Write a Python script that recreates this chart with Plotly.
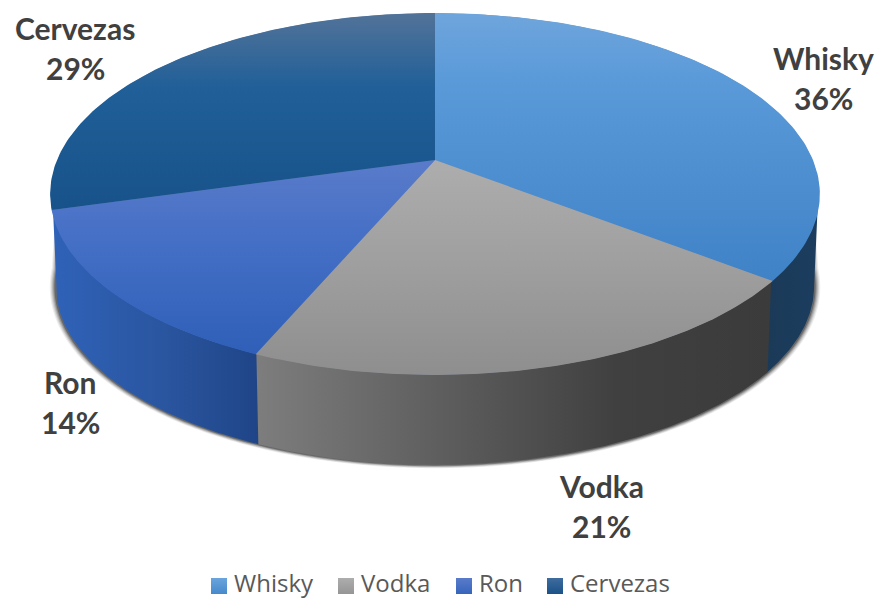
import numpy as np
import plotly.graph_objects as go

# Drink shares, in percent
categories = ["Whisky", "Vodka", "Ron", "Cervezas"]
shares = [36, 21, 14, 29]

# Fill ramps for the top faces and the outer walls
top_colors = {
    "Whisky": [[0, "#6fa5dc"], [0.25, "#5a9ad9"], [1, "#3f82c6"]],
    "Vodka": [[0, "#adadad"], [0.45, "#a0a0a0"], [1, "#8e8e8e"]],
    "Ron": [[0, "#5a7bca"], [0.4, "#4570c6"], [1, "#2f5fb8"]],
    "Cervezas": [[0, "#527399"], [0.38, "#205f98"], [1, "#18528a"]],
}
wall_colors = {
    "Whisky": [[0, "#1b3a58"], [1, "#1c3d5e"]],
    "Vodka": [[0, "#7e7e7e"], [0.7, "#404040"], [1, "#3b3b3b"]],
    "Ron": [[0, "#2f62b8"], [0.55, "#2a559f"], [1, "#1f4587"]],
}
swatch_colors = {
    "Whisky": ("#6aa5dd", "#4689cb"),
    "Vodka": ("#adadad", "#959595"),
    "Ron": ("#5a7bca", "#3565bc"),
    "Cervezas": ("#3f6c9e", "#1a5288"),
}
label_anchor = {
    "Whisky": (823, 58),
    "Vodka": (601, 486),
    "Ron": (70, 382),
    "Cervezas": (75, 28),
}
legend_left = {"Whisky": 211, "Vodka": 338, "Ron": 456, "Cervezas": 547}
LEGEND_Y = 586
LEGEND_TEXT_Y = 582
SWATCH = 16

# Perspective view of the disc, in page pixels
CX, CY = 435.0, 160.0
K = 0.188
A, B = 378.0, 174.6
DEPTH = 93.0
BOTTOM_SCALE = 0.985
VIEW_SKEW = np.radians(2.2)


def rim(theta, scale=1.0, drop=0.0):
    """Project clockwise-from-top angles (radians) onto the page."""
    u, v = np.sin(theta), -np.cos(theta)
    w = 1 - K * v
    return CX + scale * A * u / w, CY + drop + scale * B * v / w


def arc(t0, t1, n=120):
    return np.linspace(t0, t1, n)


fig = go.Figure()

# Soft drop shadow under the body of the pie
front = arc(np.radians(95), np.radians(265), 240)
for grow, alpha in [(0.016, 0.07), (0.013, 0.1), (0.010, 0.14), (0.007, 0.2), (0.004, 0.28)]:
    sx, sy = rim(front, BOTTOM_SCALE + grow, DEPTH)
    tx, ty = rim(front[::-1], BOTTOM_SCALE, 0)
    fig.add_trace(go.Scatter(
        x=np.r_[sx, tx], y=np.r_[sy, ty], mode="none", fill="toself",
        fillcolor=f"rgba(0,0,0,{alpha})", hoverinfo="skip", showlegend=False,
    ))

# Slice boundaries, clockwise from twelve o'clock, with the slight skew of the 3D view
edges = np.radians(np.r_[0, np.cumsum(shares)] * 3.6)
edges = edges - VIEW_SKEW * (1 - np.cos(edges)) / 2

# Outer walls of the slices facing the viewer; each runs slightly under the next one
tangent_right, tangent_left = np.radians(100.8), np.radians(259.2)
for name, t0, t1 in zip(categories, edges[:-1], edges[1:]):
    if name not in wall_colors:
        continue
    a0, a1 = max(t0, tangent_right), min(t1 + np.radians(0.5), tangent_left)
    t = arc(a0, a1)
    xt, yt = rim(t, 0.996, -1.0)
    xb, yb = rim(t[::-1], BOTTOM_SCALE, DEPTH)
    xs, ys = np.r_[xt, xb, xt[0]], np.r_[yt, yb, yt[0]]
    fig.add_trace(go.Scatter(
        x=xs, y=ys, mode="lines", line=dict(width=0), fill="toself",
        fillgradient=dict(type="horizontal", colorscale=wall_colors[name],
                          start=float(xs.min()), stop=float(xs.max())),
        hoverinfo="skip", showlegend=False,
    ))

# Backing disc keeps the joins between the top faces from showing white
xd, yd = rim(arc(0, 2 * np.pi, 360), 0.998)
fig.add_trace(go.Scatter(x=xd, y=yd, mode="none", fill="toself", fillcolor="#6b87ad",
                         hoverinfo="skip", showlegend=False))

# Top faces
for name, share, t0, t1 in zip(categories, shares, edges[:-1], edges[1:]):
    t = arc(t0, t1)
    xr, yr = rim(t)
    xs, ys = np.r_[CX, xr, CX], np.r_[CY, yr, CY]
    fig.add_trace(go.Scatter(
        x=xs, y=ys, mode="lines", line=dict(width=0), fill="toself",
        fillgradient=dict(type="vertical", colorscale=top_colors[name],
                          start=float(ys.min()), stop=float(ys.max())),
        hoverinfo="text", text=f"{name}: {share}%",
        showlegend=False,
    ))

# Category and percentage labels
label_font = dict(family="Lato", size=30, color="#404040", weight="bold")
annotations = []
for name, share in zip(categories, shares):
    ax, ay = label_anchor[name]
    for text, yy in [(name, ay), (f"{share}%", ay + 40)]:
        annotations.append(dict(x=ax, y=yy, text=text, showarrow=False,
                                xref="x", yref="y", font=label_font,
                                xanchor="center", yanchor="middle"))

# Key along the bottom edge: gradient swatch plus category name
for name in categories:
    left = legend_left[name]
    light, dark = swatch_colors[name]
    fig.add_trace(go.Scatter(
        x=[left + SWATCH / 2], y=[LEGEND_Y], mode="markers", hoverinfo="skip", showlegend=False,
        marker=dict(symbol="square", size=SWATCH, color=light,
                    gradient=dict(type="vertical", color=dark)),
    ))
    annotations.append(dict(x=left + SWATCH + 6, y=LEGEND_TEXT_Y, text=name, showarrow=False,
                            xref="x", yref="y", xanchor="left", yanchor="middle", borderpad=0,
                            font=dict(family="Open Sans", size=24, color="#595959")))

fig.update_layout(
    width=881, height=599, autosize=False,
    margin=dict(l=0, r=0, t=0, b=0),
    paper_bgcolor="white", plot_bgcolor="white",
    xaxis=dict(range=[0, 881], visible=False, fixedrange=True),
    yaxis=dict(range=[599, 0], visible=False, fixedrange=True),
    annotations=annotations,
    showlegend=False,
)

fig.write_html("out.html")
